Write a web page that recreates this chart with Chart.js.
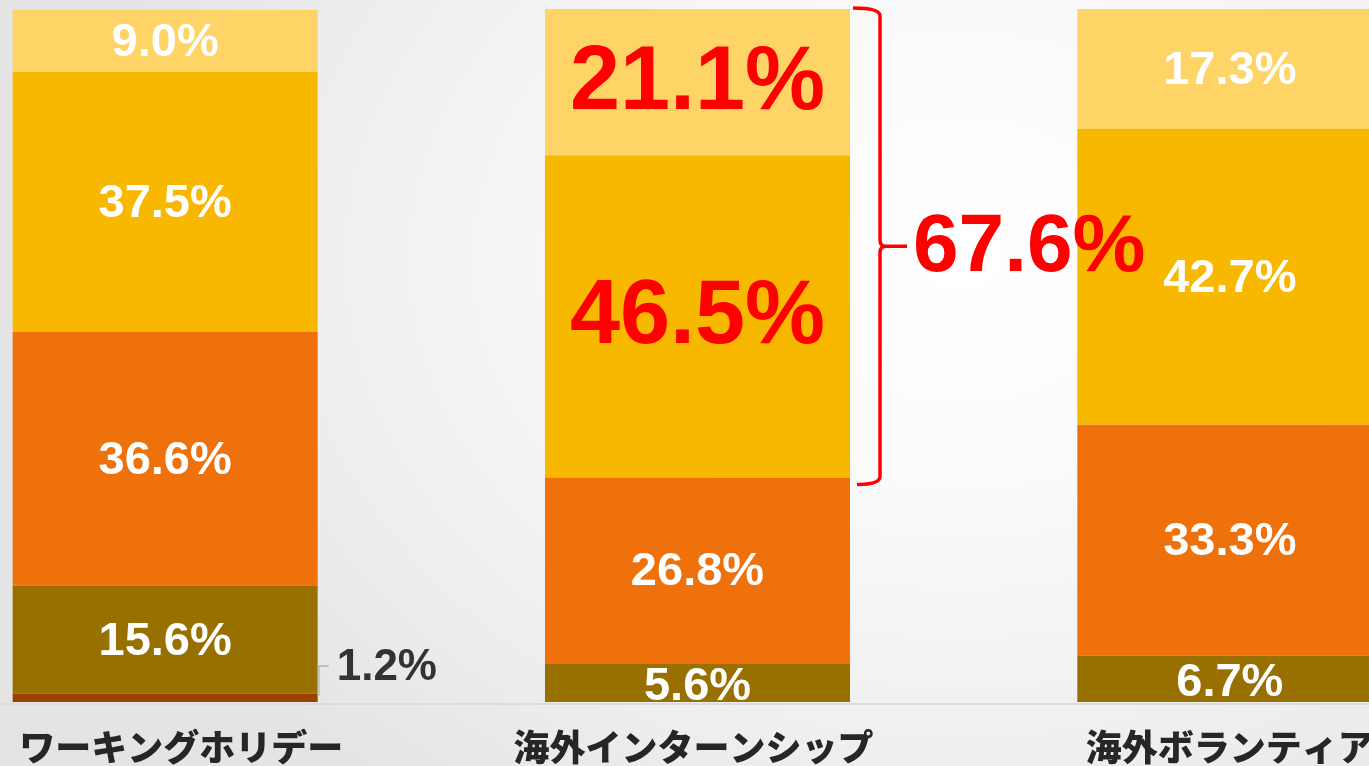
<!DOCTYPE html>
<html lang="ja">
<head>
<meta charset="utf-8">
<script src="https://cdn.jsdelivr.net/npm/chart.js@4"></script>
<style>
  html, body { margin: 0; padding: 0; width: 1369px; height: 766px; overflow: hidden; }
  body {
    position: relative;
    background: radial-gradient(ellipse 900px 700px at 960px 260px, #ffffff 0%, #fbfbfb 30%, #efefef 70%, #e4e4e4 100%);
  }
  #chart { position: absolute; left: -101px; top: 0; }
</style>
</head>
<body>
<canvas id="chart" width="1597" height="766"></canvas>
<script>
  const categories = ["ワーキングホリデー", "海外インターンシップ", "海外ボランティア"];
  // stacked from bottom to top
  const seriesDarkRed = [1.2, 0, 0];
  const seriesOlive = [15.6, 5.6, 6.7];
  const seriesOrange = [36.6, 26.8, 33.3];
  const seriesYellow = [37.5, 46.5, 42.7];
  const seriesLight = [9.0, 21.1, 17.3];
  const bracketLabel = "67.6%";

  const colors = ["#9a4100", "#987000", "#ee710b", "#f9b800", "#fed466"];
  const NUM_FONT = "'Liberation Sans', Arial, sans-serif";

  const fmt = (v) => v.toFixed(1) + "%";

  // labels drawn in every segment, with the highlighted ones in red
  const labelPlugin = {
    id: "segLabels",
    afterDatasetsDraw(chart) {
      const ctx = chart.ctx;
      ctx.save();
      ctx.textAlign = "center";
      ctx.textBaseline = "middle";
      chart.data.datasets.forEach((ds, di) => {
        const meta = chart.getDatasetMeta(di);
        meta.data.forEach((bar, i) => {
          const v = ds.data[i];
          if (!v) return;
          if (di === 0) return; // 1.2% is drawn outside
          const big = i === 1 && (di === 3 || di === 4);
          ctx.font = `bold ${big ? 90 : 47}px ${NUM_FONT}`;
          ctx.fillStyle = big ? "#ff0000" : "#ffffff";
          let y = (bar.y + bar.base) / 2 + 2;
          if (di === 1 && i > 0) y += 2;
          ctx.fillText(fmt(v), bar.x, y);
        });
      });

      // outside label for the thin bottom segment
      const thin = chart.getDatasetMeta(0).data[0];
      const right = thin.x + thin.width / 2;
      const ty = 666;
      ctx.strokeStyle = "#bdbdbd";
      ctx.lineWidth = 2;
      ctx.beginPath();
      ctx.moveTo(right + 1, thin.y + 2);
      ctx.lineTo(right + 1, ty);
      ctx.lineTo(right + 11, ty);
      ctx.stroke();
      ctx.font = `bold 44px ${NUM_FONT}`;
      ctx.fillStyle = "#333333";
      ctx.textAlign = "left";
      ctx.fillText(fmt(seriesDarkRed[0]), right + 19, ty + 2);

      // bracket around the top two segments of the middle bar
      const yScale = chart.scales.y;
      const mid = chart.getDatasetMeta(3).data[1];
      const mr = mid.x + mid.width / 2;
      const top = yScale.getPixelForValue(100) - 1;
      const bot = yScale.getPixelForValue(100 - seriesLight[1] - seriesYellow[1]) + 7;
      const bx = mr + 30;
      const tip = (top + bot) / 2;
      ctx.strokeStyle = "#ff0000";
      ctx.lineWidth = 3.5;
      ctx.lineJoin = "round";
      ctx.beginPath();
      ctx.moveTo(mr + 3, top);
      ctx.quadraticCurveTo(bx, top, bx, top + 8);
      ctx.lineTo(bx, tip - 6);
      ctx.quadraticCurveTo(bx, tip, bx + 6, tip);
      ctx.lineTo(bx + 27, tip);
      ctx.moveTo(bx + 6, tip);
      ctx.quadraticCurveTo(bx, tip, bx, tip + 6);
      ctx.lineTo(bx, bot - 8);
      ctx.quadraticCurveTo(bx, bot, mr + 7, bot);
      ctx.stroke();
      ctx.font = `bold 82px ${NUM_FONT}`;
      ctx.fillStyle = "#ff0000";
      ctx.textAlign = "left";
      ctx.fillText(bracketLabel, bx + 33, tip + 2);

      // baseline and category names
      const xScale = chart.scales.x;
      const base = yScale.getPixelForValue(0);
      ctx.strokeStyle = "#dcdcdc";
      ctx.lineWidth = 2;
      ctx.beginPath();
      ctx.moveTo(0, base + 2);
      ctx.lineTo(chart.width, base + 2);
      ctx.stroke();
      ctx.font = "900 36px 'Noto Sans CJK JP', sans-serif";
      ctx.fillStyle = "#262626";
      ctx.textAlign = "center";
      categories.forEach((c, i) => {
        const off = i === 0 ? 16 : (i === 1 ? -4 : 0);
        ctx.fillText(c, xScale.getPixelForValue(i) + off, 747);
      });
      ctx.restore();
    }
  };

  const series = [seriesDarkRed, seriesOlive, seriesOrange, seriesYellow, seriesLight];

  new Chart(document.getElementById("chart"), {
    type: "bar",
    data: {
      labels: categories,
      datasets: series.map((d, i) => ({
        data: d,
        backgroundColor: colors[i],
        borderWidth: 0,
        barPercentage: 0.573,
        categoryPercentage: 1.0,
      })),
    },
    options: {
      responsive: false,
      animation: false,
      layout: { padding: { top: 9, bottom: 64, left: 0, right: 0 } },
      plugins: { legend: { display: false }, tooltip: { enabled: false } },
      scales: {
        x: { stacked: true, display: false },
        y: { stacked: true, display: false, min: 0, max: 100 },
      },
    },
    plugins: [labelPlugin],
  });
</script>
</body>
</html>
